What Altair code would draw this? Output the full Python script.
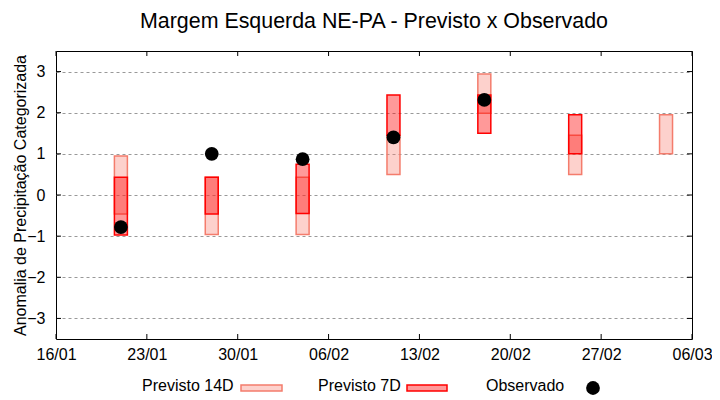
import altair as alt
import pandas as pd

# ---- data ----
forecast_dates = ["2023-01-21", "2023-01-28", "2023-02-04", "2023-02-11",
                  "2023-02-18", "2023-02-25", "2023-03-04"]
p14_low = [-0.46, -0.96, -0.96, 0.50, 1.99, 0.50, 1.00]
p14_high = [0.95, 0.43, 0.43, 1.45, 2.94, 1.45, 1.95]

p7_dates = ["2023-01-21", "2023-01-28", "2023-02-04", "2023-02-11",
            "2023-02-18", "2023-02-25"]
p7_low = [-0.97, -0.46, -0.45, 1.45, 1.50, 1.00]
p7_high = [0.43, 0.43, 0.75, 2.43, 2.43, 1.95]

obs_dates = ["2023-01-21", "2023-01-28", "2023-02-04", "2023-02-11", "2023-02-18"]
obs_values = [-0.78, 1.00, 0.87, 1.40, 2.31]

x_ticks = ["2023-01-16", "2023-01-23", "2023-01-30", "2023-02-06",
           "2023-02-13", "2023-02-20", "2023-02-27", "2023-03-06"]
y_ticks = [-3, -2, -1, 0, 1, 2, 3]

legend_labels = ["Previsto 14D", "Previsto 7D", "Observado"]

FONT = "Liberation Sans"
half = pd.Timedelta(hours=12)

d14 = pd.DataFrame({"d": pd.to_datetime(forecast_dates), "lo": p14_low, "hi": p14_high})
d14["x1"] = d14["d"] - half
d14["x2"] = d14["d"] + half
d7 = pd.DataFrame({"d": pd.to_datetime(p7_dates), "lo": p7_low, "hi": p7_high})
d7["x1"] = d7["d"] - half
d7["x2"] = d7["d"] + half
dobs = pd.DataFrame({"d": pd.to_datetime(obs_dates), "v": obs_values})
dxt = pd.DataFrame({"d": pd.to_datetime(x_ticks)})
dyt = pd.DataFrame({"v": y_ticks})

x_scale = alt.Scale(domain=[alt.DateTime(year=2023, month=1, date=16),
                            alt.DateTime(year=2023, month=3, date=6)])
y_scale = alt.Scale(domain=[-3.5, 3.5], nice=False, zero=False)

x_axis = alt.Axis(values=[alt.DateTime(year=int(s[:4]), month=int(s[5:7]), date=int(s[8:]))
                          for s in x_ticks],
                  format="%d/%m", title=None, grid=False, ticks=False, domain=False,
                  labelFont=FONT, labelFontSize=16, labelColor="black", labelPadding=7,
                  labelFlush=False)
y_axis = alt.Axis(values=y_ticks, title="Anomalia de Precipitação Categorizada",
                  grid=True, gridDash=[3, 3], gridColor="#999999", gridWidth=1,
                  ticks=False, domain=False, labelFont=FONT, labelFontSize=16,
                  labelColor="black", labelPadding=11, titleFont=FONT,
                  titleFontSize=16, titleFontWeight="normal", titleColor="black",
                  titlePadding=-2)

X1 = alt.X("x1:T", scale=x_scale, axis=x_axis)
Y1 = alt.Y("lo:Q", scale=y_scale, axis=y_axis)

b14 = alt.Chart(d14).mark_rect(fill="#fa8072", fillOpacity=0.36, stroke="#f47c6c",
                               strokeWidth=1.5).encode(
    x=X1, x2="x2:T", y=Y1, y2="hi:Q")
b7 = alt.Chart(d7).mark_rect(fill="#ff0000", fillOpacity=0.4, stroke="#ff0000",
                             strokeWidth=1.5).encode(
    x=X1, x2="x2:T", y=Y1, y2="hi:Q")
pts = alt.Chart(dobs).mark_circle(size=190, color="black", opacity=1).encode(
    x=alt.X("d:T", scale=x_scale, axis=x_axis),
    y=alt.Y("v:Q", scale=y_scale, axis=y_axis))

tick_l = alt.Chart(dyt).mark_rule(color="black").encode(
    y=alt.Y("v:Q", scale=y_scale, axis=y_axis), x=alt.value(0), x2=alt.value(5))
tick_r = alt.Chart(dyt).mark_rule(color="black").encode(
    y=alt.Y("v:Q", scale=y_scale, axis=y_axis), x=alt.value(631), x2=alt.value(636))
tick_b = alt.Chart(dxt).mark_rule(color="black").encode(
    x=alt.X("d:T", scale=x_scale, axis=x_axis), y=alt.value(288), y2=alt.value(283))
tick_t = alt.Chart(dxt).mark_rule(color="black").encode(
    x=alt.X("d:T", scale=x_scale, axis=x_axis), y=alt.value(0), y2=alt.value(5))

leg_df = pd.DataFrame({"label": legend_labels})
def leg_text(i, xpos):
    return alt.Chart(leg_df).transform_filter(
        alt.datum.label == legend_labels[i]).mark_text(
        font=FONT, fontSize=16, align="left", baseline="alphabetic", color="black").encode(
        text="label:N", x=alt.value(xpos), y=alt.value(340))

lt1 = leg_text(0, 86)
lt2 = leg_text(1, 262)
lt3 = leg_text(2, 430)
ls1 = alt.Chart(leg_df).transform_filter(alt.datum.label == legend_labels[0]).mark_rect(
    fill="#fa8072", fillOpacity=0.36, stroke="#f47c6c", strokeWidth=1.5).encode(
    x=alt.value(185), x2=alt.value(226), y=alt.value(334), y2=alt.value(340))
ls2 = alt.Chart(leg_df).transform_filter(alt.datum.label == legend_labels[1]).mark_rect(
    fill="#ff0000", fillOpacity=0.4, stroke="#ff0000", strokeWidth=1.5).encode(
    x=alt.value(351), x2=alt.value(391), y=alt.value(334), y2=alt.value(340))
ls3 = alt.Chart(leg_df).transform_filter(alt.datum.label == legend_labels[2]).mark_circle(
    size=190, color="black", opacity=1).encode(
    x=alt.value(537), y=alt.value(337))

chart = alt.layer(b14, b7, pts, tick_l, tick_r, tick_b, tick_t,
                  lt1, lt2, lt3, ls1, ls2, ls3).properties(
    width=636, height=288,
    title=alt.TitleParams("Margem Esquerda NE-PA - Previsto x Observado",
                          font=FONT, fontSize=21.4, fontWeight="normal",
                          color="black", anchor="middle", baseline="alphabetic",
                          offset=1),
    padding={"left": 48, "top": 43, "right": 20, "bottom": 60},
    autosize="none",
).configure_view(stroke="black", strokeWidth=1)

chart.save("out.html", embed_options={"renderer": "svg", "actions": False})
